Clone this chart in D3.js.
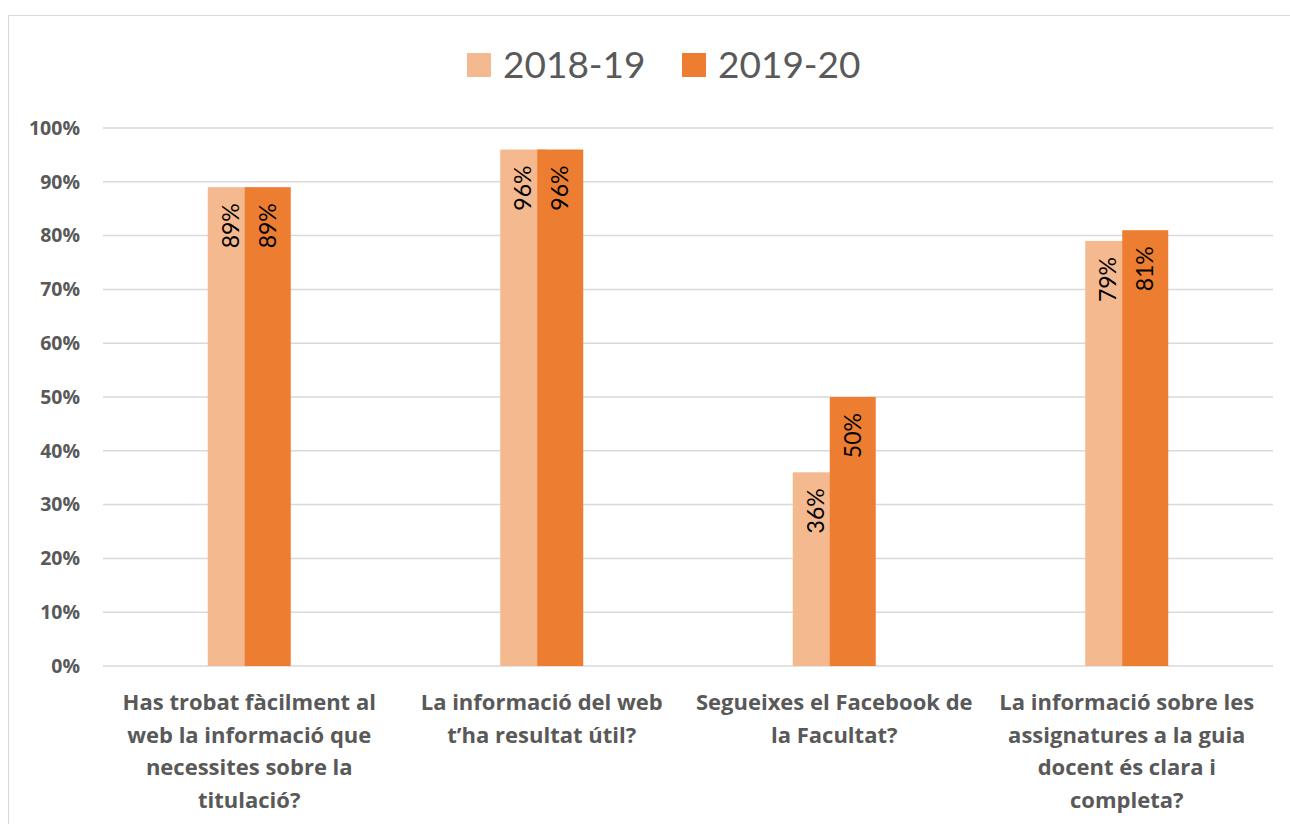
<!DOCTYPE html>
<html>
<head>
<meta charset="utf-8">
<script src="https://cdn.jsdelivr.net/npm/d3@7"></script>
<style>
  body { margin: 0; background: #fff; }
  svg { display: block; font-family: Lato, "Open Sans", sans-serif; }
</style>
</head>
<body>
<div id="grafica"></div>
<script>
// categories (one entry per line of the label)
var categories = [
  ["Has trobat fàcilment al", "web la informació que", "necessites sobre la", "titulació?"],
  ["La informació del web", "t’ha resultat útil?"],
  ["Segueixes el Facebook de", "la Facultat?"],
  ["La informació sobre les", "assignatures a la guia", "docent és clara i", "completa?"]
];
var seriesNames = ["2018-19", "2019-20"];
var values1819 = [0.89, 0.96, 0.36, 0.79];
var values1920 = [0.89, 0.96, 0.50, 0.81];
var yTicks = [0, 0.1, 0.2, 0.3, 0.4, 0.5, 0.6, 0.7, 0.8, 0.9, 1.0];

var colors = ["#F5B98F", "#ED7D31"];

var W = 1290, H = 824;
var margin = { top: 128, right: 17, bottom: 158, left: 103 },
  width = W - margin.left - margin.right,
  height = H - margin.top - margin.bottom;

var svg = d3.select("#grafica")
  .append("svg")
  .attr("width", W)
  .attr("height", H);

// chart frame
svg.append("rect")
  .attr("x", 8.5).attr("y", 15.5)
  .attr("width", W).attr("height", H)
  .attr("fill", "none")
  .attr("stroke", "#d9d9d9")
  .attr("stroke-width", 1);

var g = svg.append("g")
  .attr("transform", "translate(" + margin.left + "," + margin.top + ")");

// scales
var x = d3.scaleBand()
  .domain(d3.range(categories.length))
  .range([0, width]);

var y = d3.scaleLinear()
  .domain([0, 1])
  .range([height, 0]);

// gridlines
g.append("g")
  .selectAll("line")
  .data(yTicks)
  .enter()
  .append("line")
  .attr("x1", 0)
  .attr("x2", width)
  .attr("y1", function (d) { return y(d); })
  .attr("y2", function (d) { return y(d); })
  .attr("stroke", "#d9d9d9")
  .attr("stroke-width", 1.5);

// y axis labels
var yAxis = g.append("g")
  .call(d3.axisLeft(y).tickValues(yTicks).tickFormat(d3.format(".0%")).tickSize(0).tickPadding(23));
yAxis.select(".domain").remove();
yAxis.selectAll("text")
  .attr("fill", "#595959")
  .style("font-size", "19.5px")
  .style("font-weight", "bold")
  .style("font-family", "'Open Sans', sans-serif");

// bars
var barW = 46, overlap = 9;
var series = [values1819, values1920];
series.forEach(function (vals, s) {
  var off = s === 0 ? -(barW - overlap / 2) : -overlap / 2;
  var bars = g.append("g");
  bars.selectAll("rect")
    .data(vals)
    .enter()
    .append("rect")
    .attr("x", function (d, i) { return x(i) + x.bandwidth() / 2 + off; })
    .attr("y", function (d) { return y(d); })
    .attr("width", barW)
    .attr("height", function (d) { return height - y(d); })
    .attr("fill", colors[s]);
});

// data labels (drawn after bars, rotated)
series.forEach(function (vals, s) {
  var off = s === 0 ? -(barW - overlap / 2) : -overlap / 2;
  g.append("g")
    .selectAll("text")
    .data(vals)
    .enter()
    .append("text")
    .attr("transform", function (d, i) {
      var cx = x(i) + x.bandwidth() / 2 + off + barW / 2;
      return "translate(" + (cx + 8) + "," + (y(d) + 16) + ") rotate(-90)";
    })
    .attr("text-anchor", "end")
    .attr("fill", "#000")
    .style("font-size", "23px")
    .text(function (d) { return Math.round(d * 100) + "%"; });
});

// category labels
var cat = g.append("g")
  .selectAll("text")
  .data(categories)
  .enter()
  .append("text")
  .attr("text-anchor", "middle")
  .attr("fill", "#595959")
  .style("font-size", "22px")
  .style("font-weight", "bold")
  .style("font-family", "'Open Sans', sans-serif")
  .attr("x", function (d, i) { return x(i) + x.bandwidth() / 2; })
  .attr("y", height + 44);
cat.selectAll("tspan")
  .data(function (d) { return d; })
  .enter()
  .append("tspan")
  .attr("x", function () { return d3.select(this.parentNode).attr("x"); })
  .attr("dy", function (d, i) { return i === 0 ? 0 : 32.5; })
  .text(function (d) { return d; });

// legend
var legendX = [467, 682];
var legend = svg.append("g");
legend.selectAll("rect")
  .data(seriesNames)
  .enter()
  .append("rect")
  .attr("x", function (d, i) { return legendX[i]; })
  .attr("y", 53)
  .attr("width", 24)
  .attr("height", 24)
  .attr("fill", function (d, i) { return colors[i]; });
legend.selectAll("text")
  .data(seriesNames)
  .enter()
  .append("text")
  .attr("x", function (d, i) { return legendX[i] + 36; })
  .attr("y", 78)
  .attr("fill", "#595959")
  .style("font-size", "37px")
  .text(function (d) { return d; });
</script>
</body>
</html>
